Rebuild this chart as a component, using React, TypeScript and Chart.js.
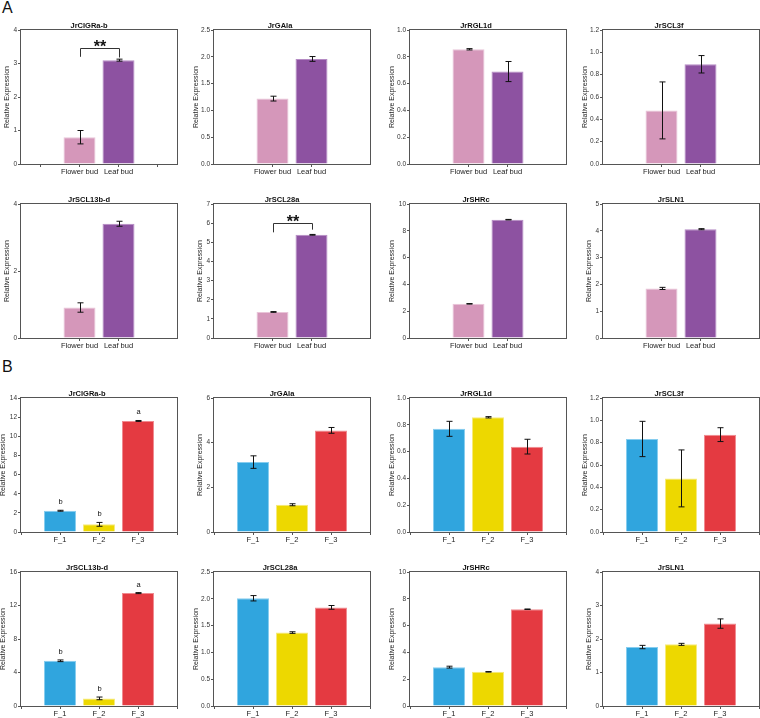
import React, { useEffect, useRef } from 'react';
import { Chart, registerables } from 'chart.js';

Chart.register(...registerables);

const FONT = "'Liberation Sans', Arial, Helvetica, sans-serif";

// ---------- data ----------
const genes = ['JrCIGRa-b', 'JrGAIa', 'JrRGL1d', 'JrSCL3f', 'JrSCL13b-d', 'JrSCL28a', 'JrSHRc', 'JrSLN1'];

// Part A: Flower bud vs Leaf bud
const budLabels = ['Flower bud', 'Leaf bud'];
const budMeans = [
  [0.8, 3.1],
  [1.22, 1.96],
  [0.856, 0.69],
  [0.48, 0.893],
  [0.91, 3.41],
  [1.36, 5.39],
  [2.55, 8.83],
  [1.85, 4.06],
];
const budErrors = [
  [0.2, 0.03],
  [0.045, 0.045],
  [0.005, 0.075],
  [0.255, 0.078],
  [0.14, 0.075],
  [0.02, 0.02],
  [0.02, 0.02],
  [0.04, 0.02],
];
const budYMax = [4, 2.5, 1, 1.2, 4, 7, 10, 5];
const budYStep = [1, 0.5, 0.2, 0.2, 2, 1, 2, 1];

// significance brackets in part A
const bracketPanels = [0, 5];
const bracketTop = [3.47, 6.0];
const bracketLeftEnd = [3.2, 5.52];
const bracketRightEnd = [3.18, 5.66];
const bracketMarks = ['**', '**'];

// Part B: F_1, F_2, F_3
const stageLabels = ['F_1', 'F_2', 'F_3'];
const stageMeans = [
  [2.22, 0.8, 11.6],
  [3.13, 1.22, 4.55],
  [0.77, 0.856, 0.637],
  [0.833, 0.48, 0.872],
  [5.4, 0.91, 13.48],
  [2.01, 1.37, 1.84],
  [2.9, 2.55, 7.22],
  [1.76, 1.84, 2.46],
];
const stageErrors = [
  [0.05, 0.2, 0.05],
  [0.28, 0.045, 0.13],
  [0.056, 0.005, 0.055],
  [0.158, 0.255, 0.062],
  [0.1, 0.16, 0.06],
  [0.05, 0.015, 0.035],
  [0.07, 0.02, 0.02],
  [0.05, 0.03, 0.14],
];
const stageYMax = [14, 6, 1, 1.2, 16, 2.5, 10, 4];
const stageYStep = [2, 2, 0.2, 0.2, 4, 0.5, 2, 1];
const stageLetters: (string[] | null)[] = [['b', 'b', 'a'], null, null, null, ['b', 'b', 'a'], null, null, null];

// ---------- styles ----------
const budColors = ['#D597BA', '#8D52A1'];
const budBorders = ['#E9C4D8', '#B58BC4'];
const stageColors = ['#30A5DE', '#EDD800', '#E43A41'];
const stageBorders = ['#86CDEF', '#F6EA7A', '#F08A90'];

const colAxisX = [21, 214, 410, 603];
const rowTopsA = [30, 204];
const rowTopsB = [398, 572];
const PLOT_W = 156;
const PLOT_H = 134;
const TITLE_H = 9;
const XAXIS_H = 14;
const RIGHT_PAD = 3;

type PanelProps = {
  title: string;
  labels: string[];
  values: (number | null)[];
  errors: (number | null)[];
  colors: string[];
  borders: string[];
  yMax: number;
  yStep: number;
  offset: boolean;
  hideEmptyTicks: boolean;
  letters: (string | null)[] | null;
  bracket: { top: number; left: number; right: number; mark: string } | null;
  axisX: number;
  plotTop: number;
};

function Panel(p: PanelProps) {
  const ref = useRef<HTMLCanvasElement>(null);
  const decimals = p.yStep < 1 ? 1 : 0;
  const maxLabel = p.yMax.toFixed(decimals);
  const yw = maxLabel.length > 1 ? 24 : 20;
  const cw = yw + PLOT_W + RIGHT_PAD;
  const ch = TITLE_H + PLOT_H + XAXIS_H;

  useEffect(() => {
    if (!ref.current) return;
    const overlay = {
      id: 'overlay',
      afterDatasetsDraw(chart: any) {
        const ctx = chart.ctx;
        const ys = chart.scales.y;
        const meta = chart.getDatasetMeta(0);
        ctx.save();
        ctx.strokeStyle = '#111';
        ctx.fillStyle = '#111';
        ctx.lineWidth = 1;
        p.values.forEach((v, i) => {
          if (v == null) return;
          const e = p.errors[i] || 0;
          const el = meta.data[i];
          const x = Math.round(el.x) + 0.5;
          const yt = ys.getPixelForValue(v + e);
          const yb = ys.getPixelForValue(v - e);
          ctx.beginPath();
          ctx.moveTo(x, yt);
          ctx.lineTo(x, yb);
          ctx.moveTo(x - 3, yt);
          ctx.lineTo(x + 3, yt);
          ctx.moveTo(x - 3, yb);
          ctx.lineTo(x + 3, yb);
          ctx.stroke();
          if (p.letters && p.letters[i]) {
            ctx.font = `7.5px ${FONT}`;
            ctx.textAlign = 'center';
            ctx.textBaseline = 'alphabetic';
            ctx.fillText(p.letters[i], x, yt - 6);
          }
        });
        if (p.bracket) {
          const idx = p.values.map((v, i) => (v == null ? -1 : i)).filter((i) => i >= 0);
          const x1 = Math.round(meta.data[idx[0]].x) + 0.5;
          const x2 = Math.round(meta.data[idx[idx.length - 1]].x) + 0.5;
          const yTop = Math.round(ys.getPixelForValue(p.bracket.top)) + 0.5;
          const yL = ys.getPixelForValue(p.bracket.left);
          const yR = ys.getPixelForValue(p.bracket.right);
          ctx.strokeStyle = '#333';
          ctx.beginPath();
          ctx.moveTo(x1, yL);
          ctx.lineTo(x1, yTop);
          ctx.lineTo(x2, yTop);
          ctx.lineTo(x2, yR);
          ctx.stroke();
          ctx.font = `bold 16px ${FONT}`;
          ctx.textAlign = 'center';
          ctx.textBaseline = 'alphabetic';
          ctx.fillStyle = '#111';
          ctx.fillText(p.bracket.mark, (x1 + x2) / 2, yTop + 3);
        }
        const a = chart.chartArea;
        ctx.strokeStyle = '#555';
        ctx.lineWidth = 1;
        ctx.strokeRect(Math.round(a.left) - 0.5, Math.round(a.top) - 0.5, Math.round(a.right - a.left) + 1, Math.round(a.bottom - a.top) + 1);
        ctx.restore();
      },
    };

    const chart = new Chart(ref.current, {
      type: 'bar',
      data: {
        labels: p.labels,
        datasets: [
          {
            data: p.values as any,
            backgroundColor: p.colors,
            borderColor: p.borders,
            borderWidth: 1,
            borderSkipped: 'bottom',
            barPercentage: 0.82,
            categoryPercentage: 1,
          },
        ],
      },
      options: {
        animation: false,
        responsive: false,
        devicePixelRatio: 1,
        layout: { padding: { left: 0, right: RIGHT_PAD, top: 0, bottom: 0 } },
        plugins: {
          legend: { display: false },
          tooltip: { enabled: false },
          title: {
            display: true,
            text: p.title,
            color: '#111',
            font: { family: FONT, size: 7.5, weight: 'bold', lineHeight: 1.2 },
            padding: { top: 0, bottom: 0 },
          },
        },
        scales: {
          x: {
            type: 'category',
            offset: p.offset,
            grid: {
              offset: false,
              drawOnChartArea: false,
              tickLength: 3,
              color: '#555',
              tickColor: (c: any) => (p.hideEmptyTicks && !p.labels[c.index] ? 'rgba(0,0,0,0)' : '#555'),
            },
            border: { display: false },
            ticks: { autoSkip: false, maxRotation: 0, minRotation: 0, padding: 0, color: '#222', font: { family: FONT, size: 7.5 } },
            afterFit: (s: any) => {
              s.height = XAXIS_H;
            },
          },
          y: {
            min: 0,
            max: p.yMax,
            grid: { drawOnChartArea: false, tickLength: 3, color: '#555' },
            border: { display: false },
            ticks: {
              stepSize: p.yStep,
              autoSkip: false,
              padding: 1,
              color: '#333',
              font: { family: FONT, size: 6.5 },
              callback: (v: any) => Number(v).toFixed(decimals),
            },
            title: {
              display: true,
              text: 'Relative Expression',
              color: '#222',
              font: { family: FONT, size: 7 },
              padding: { top: 2, bottom: 0 },
            },
            afterFit: (s: any) => {
              s.width = yw;
            },
          },
        },
      } as any,
      plugins: [overlay],
    });
    return () => chart.destroy();
  }, []);

  return (
    <div style={{ position: 'absolute', left: p.axisX - yw, top: p.plotTop - TITLE_H, width: cw, height: ch }}>
      <canvas ref={ref} width={cw} height={ch} style={{ display: 'block', width: cw, height: ch }} />
    </div>
  );
}

export default function App() {
  const panels: JSX.Element[] = [];
  genes.forEach((g, i) => {
    const col = i % 4;
    const row = Math.floor(i / 4);
    const bIdx = bracketPanels.indexOf(i);
    panels.push(
      <Panel
        key={'a' + i}
        title={g}
        labels={['', ...budLabels, '']}
        values={[null, ...budMeans[i], null]}
        errors={[null, ...budErrors[i], null]}
        colors={['#000', ...budColors, '#000']}
        borders={['#000', ...budBorders, '#000']}
        yMax={budYMax[i]}
        yStep={budYStep[i]}
        offset={true}
        hideEmptyTicks={i !== 0}
        letters={null}
        bracket={bIdx >= 0 ? { top: bracketTop[bIdx], left: bracketLeftEnd[bIdx], right: bracketRightEnd[bIdx], mark: bracketMarks[bIdx] } : null}
        axisX={colAxisX[col]}
        plotTop={rowTopsA[row]}
      />
    );
    const lt = stageLetters[i];
    panels.push(
      <Panel
        key={'b' + i}
        title={g}
        labels={['', ...stageLabels, '']}
        values={[null, ...stageMeans[i], null]}
        errors={[null, ...stageErrors[i], null]}
        colors={['#000', ...stageColors, '#000']}
        borders={['#000', ...stageBorders, '#000']}
        yMax={stageYMax[i]}
        yStep={stageYStep[i]}
        offset={false}
        hideEmptyTicks={false}
        letters={lt ? [null, ...lt, null] : null}
        bracket={null}
        axisX={colAxisX[col]}
        plotTop={rowTopsB[row]}
      />
    );
  });
  return (
    <div style={{ position: 'absolute', left: 0, top: 0, width: 760, height: 718, overflow: 'hidden', background: '#fff', fontFamily: FONT }}>
      <div style={{ position: 'absolute', left: 2, top: 0, fontSize: 16, lineHeight: '16px', color: '#111' }}>A</div>
      <div style={{ position: 'absolute', left: 2, top: 359, fontSize: 16, lineHeight: '16px', color: '#111' }}>B</div>
      {panels}
    </div>
  );
}
